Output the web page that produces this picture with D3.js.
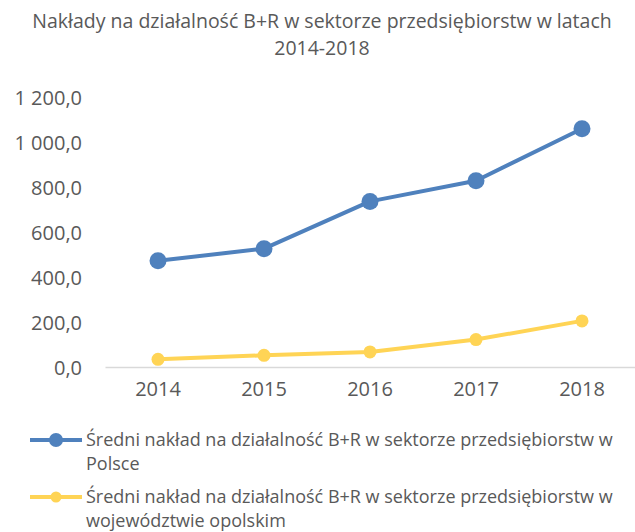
<!DOCTYPE html>
<html>
<head>
<meta charset="utf-8">
<script src="https://cdn.jsdelivr.net/npm/d3@7"></script>
<style>
  body { margin: 0; background: #fff; }
  text { font-family: "Open Sans", sans-serif; fill: #595959; }
</style>
</head>
<body>
<div id="chart"></div>
<script>
// dane
const lata = ['2014', '2015', '2016', '2017', '2018'];
const polska = [472, 526, 736, 828, 1059];
const opolskie = [34, 52, 67, 122, 205];
const yTicks = [0, 200, 400, 600, 800, 1000, 1200];
const tytul = ['Nakłady na działalność B+R w sektorze przedsiębiorstw w latach', '2014-2018'];
const legenda = [
  ['Średni nakład na działalność B+R w sektorze przedsiębiorstw w', 'Polsce'],
  ['Średni nakład na działalność B+R w sektorze przedsiębiorstw w', 'województwie opolskim']
];

const width = 635, height = 532;
const margin = { left: 105, right: 0, top: 97, bottom: 165 };
const innerH = height - margin.top - margin.bottom;

const svg = d3.select('#chart').append('svg')
  .attr('width', width)
  .attr('height', height);

// tytuł
svg.append('g').selectAll('text')
  .data(tytul)
  .enter()
  .append('text')
  .attr('x', 322)
  .attr('y', (d, i) => 28 + i * 27)
  .attr('text-anchor', 'middle')
  .style('font-size', '19.5px')
  .text(d => d);

const x = d3.scaleBand()
  .domain(lata)
  .range([margin.left, width - margin.right]);

const y = d3.scaleLinear()
  .domain([0, 1200])
  .range([margin.top + innerH, margin.top]);

// oś Y
const yAxis = svg.append('g')
  .attr('transform', 'translate(82,0)')
  .call(d3.axisLeft(y).tickValues(yTicks).tickSize(0)
    .tickFormat(d => d3.format(',.1f')(d).replace(',', ' ').replace('.', ',')));
yAxis.select('.domain').remove();
yAxis.selectAll('text').style('font-size', '20px').attr('dy', '0.35em').attr('x', 0);

// oś X
const xAxis = svg.append('g')
  .attr('transform', 'translate(0,' + y(0) + ')')
  .call(d3.axisBottom(x).tickSize(0));
xAxis.select('.domain').attr('stroke', '#d9d9d9').attr('stroke-width', 1.5);
xAxis.selectAll('text').style('font-size', '20px').attr('dy', '1.3em');

const serie = [
  { dane: polska, kolor: '#4f81bd', r: 8.5 },
  { dane: opolskie, kolor: '#ffd455', r: 6.5 }
];

const line = d3.line()
  .x((d, i) => x(lata[i]) + x.bandwidth() / 2)
  .y(d => y(d));

serie.forEach(s => {
  svg.append('path')
    .datum(s.dane)
    .attr('fill', 'none')
    .attr('stroke', s.kolor)
    .attr('stroke-width', 4)
    .attr('stroke-linejoin', 'round')
    .attr('d', line);

  svg.append('g').selectAll('circle')
    .data(s.dane)
    .enter()
    .append('circle')
    .attr('cx', (d, i) => x(lata[i]) + x.bandwidth() / 2)
    .attr('cy', d => y(d))
    .attr('r', s.r)
    .attr('fill', s.kolor);
});

// legenda
const leg = svg.append('g').selectAll('g')
  .data(serie)
  .enter()
  .append('g')
  .attr('transform', (d, i) => 'translate(0,' + (440 + i * 57) + ')');

leg.append('line')
  .attr('x1', 30).attr('x2', 82)
  .attr('stroke', d => d.kolor)
  .attr('stroke-width', 4);

leg.append('circle')
  .attr('cx', 56)
  .attr('r', (d, i) => i === 0 ? 7 : 5.5)
  .attr('fill', d => d.kolor);

leg.each(function (d, i) {
  d3.select(this).selectAll('text')
    .data(legenda[i])
    .enter()
    .append('text')
    .attr('x', 86)
    .attr('y', (t, j) => 6 + j * 24)
    .style('font-size', '18px')
    .text(t => t);
});
</script>
</body>
</html>
